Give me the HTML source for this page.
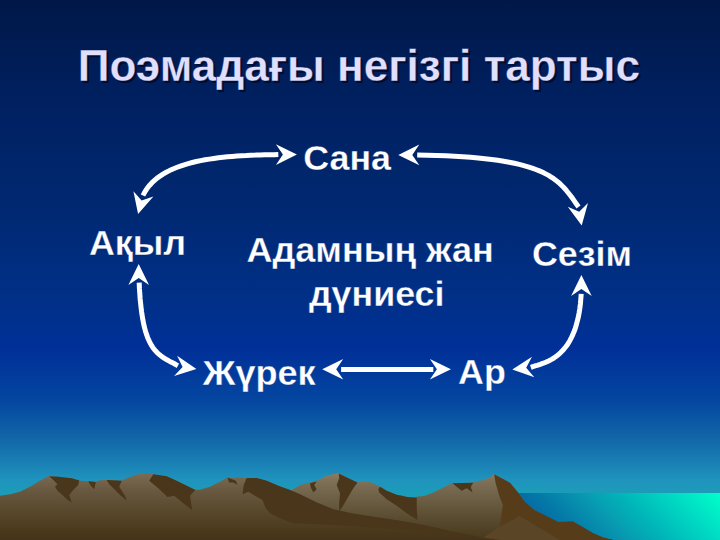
<!DOCTYPE html>
<html><head><meta charset="utf-8">
<style>
html,body{margin:0;padding:0;}
body{width:720px;height:540px;overflow:hidden;position:relative;font-family:"Liberation Sans",sans-serif;
background:linear-gradient(to bottom,#001848 0px,#002060 100px,#002870 200px,#003088 300px,#003098 350px,#0446a0 400px,#1268a8 440px,#1f93bd 480px,#1c9cb8 493px,#1c9cb8 540px);}
svg{position:absolute;left:0;top:0;}
text{font-family:"Liberation Sans",sans-serif;font-weight:bold;stroke-linejoin:miter;white-space:pre;}
</style></head><body>
<svg width="720" height="540" viewBox="0 0 720 540">
<defs>
<linearGradient id="sea" gradientUnits="userSpaceOnUse" x1="500" y1="540" x2="633.5" y2="406.5">
<stop offset="0" stop-color="#0c4898"/><stop offset="0.311" stop-color="#0478a8"/><stop offset="0.476" stop-color="#0898b0"/><stop offset="0.618" stop-color="#00b4b8"/><stop offset="0.82" stop-color="#00dcc4"/><stop offset="0.962" stop-color="#00f8c8"/><stop offset="1" stop-color="#00ffcc"/>
</linearGradient>
<linearGradient id="mt" gradientUnits="userSpaceOnUse" x1="0" y1="473" x2="0" y2="540">
<stop offset="0" stop-color="#7c6c54"/><stop offset="0.27" stop-color="#685840"/><stop offset="0.567" stop-color="#58482c"/><stop offset="0.925" stop-color="#48361a"/><stop offset="1" stop-color="#46341a"/>
</linearGradient>
<linearGradient id="mt2" gradientUnits="userSpaceOnUse" x1="0" y1="473" x2="0" y2="540">
<stop offset="0" stop-color="#8c7c62"/><stop offset="0.1" stop-color="#807258"/><stop offset="0.4" stop-color="#6c5e44"/><stop offset="0.73" stop-color="#56482c"/><stop offset="1" stop-color="#48381c"/>
</linearGradient>
</defs>
<rect x="480" y="493" width="240" height="47" fill="url(#sea)"/>
<!-- back mountain -->
<path d="M290,492 L293.3,489.2 L300,485 L310,482.5 L316.7,480.8 L326.7,475.8 L338.3,473 L343.3,475.8 L356.7,482.5 L366.7,481.3 L373.3,483.3 L380,486.7 L386.7,490.8 L396.7,494.7 L406.7,497 L415,497.5 L420,496 L420,540 L290,540 Z" fill="url(#mt2)"/>
<!-- third mountain -->
<path d="M400,495 L410,497.5 L416.7,497 L425,495.8 L433.3,492.5 L443.3,487.5 L451.7,483.3 L463.3,483 L473.3,482.5 L483.3,480 L490,477.5 L494.2,474.2 L500.8,477.7 L510.2,482.9 L518.5,492.9 L524.8,501.7 L534.2,510 L546.7,516.3 L558.1,522.1 L572.7,521.5 L582.1,526.7 L592.5,532.9 L602.9,537.5 L613.3,540 L400,540 Z" fill="url(#mt2)"/>
<g fill="#4a361a">
<!-- shadows on back mountain -->
<path d="M310,483.3 L316.7,481.5 L314.2,485 L316.7,489.2 L313.3,492.5 L310.8,487.5 Z"/>
<path d="M338.8,473.6 L343.3,475.8 L357.5,482.5 L353.3,488.3 L348.3,496.7 L342.5,506.7 L339.2,511.5 L339.2,503.3 L340,493.3 L336.7,485 L339.2,478.3 Z"/>
<path d="M380,486.7 L386.7,490.8 L396.7,494.7 L406.7,497 L415,497.8 L416.7,497.2 L416.7,508.3 L417.5,520 L406.7,513.3 L396.7,505.8 L386.7,499.2 L379.2,492.5 L378.3,489.2 Z"/>
<!-- shadows on third mountain -->
<path d="M452.5,483.3 L463.3,483 L473.3,482.7 L470.8,486.7 L472.5,492.5 L466.7,488.3 L461.7,490.8 L457.5,487.5 Z"/>
</g>
<path d="M494.2,474.2 L500.8,477.7 L510.2,482.9 L518.5,492.9 L524.8,501.7 L534.2,510 L546.7,516.3 L558.1,522.1 L572.7,521.5 L582.1,526.7 L592.5,532.9 L602.9,537.5 L613.3,540 L560,540 L519.6,516.3 L499.8,526.7 L502.9,504.8 L499.8,497.5 L495.6,482.9 Z" fill="#573c1a"/>
<path d="M560,540 L519.6,516.3 L499.8,526.7 L480,540 Z" fill="#5a4626"/>
<!-- foreground range -->
<path d="M0,495.8 L10,494.2 L20,491.7 L30,486.7 L40,480.8 L48.3,476.2 L58.3,476.7 L71.7,478.3 L80,480.8 L88.3,481.3 L95.8,481.7 L100,480.3 L106.7,480 L121.7,480.8 L128.3,477.5 L138.3,474.2 L146.7,473.3 L153.3,474.2 L166.7,476.3 L175,480 L186.7,485.8 L195,489.7 L200,489.7 L210,486.7 L220,481.7 L227.5,477.5 L230.8,478.3 L237.5,477.5 L246.7,478 L256.7,478 L266.7,480.8 L278.3,485.8 L290,490 L300,494.2 L316.7,502.5 L333.3,509.2 L350,513 L366.7,515.8 L383.3,518.3 L400,520.8 L420,524.2 L450,531 L480,537 L500,540 L0,540 Z" fill="url(#mt)"/>
<g fill="#4a361a">
<path d="M49.2,476.2 L58.3,476.7 L71.7,478.3 L79.2,480.5 L78.3,485 L73.3,490 L69.2,495 L71.7,502.5 L66.7,499.2 L61.7,494.2 L57.5,490.8 L55,486.7 L57.5,484.2 L53.3,480 Z"/>
<path d="M88.3,481.3 L95.8,482 L94.2,489.2 L90.8,485.8 Z"/>
<path d="M106.7,480 L121.7,480.8 L119.2,486.7 L125,495.8 L126.7,500.5 L120,495 L113.3,488.3 L109.2,484.2 Z"/>
<path d="M153.3,474.2 L166.7,476.3 L175,480 L186.7,485.8 L195.3,490 L190,495.8 L192.2,510 L183.3,503.3 L174.2,495.8 L167.5,497 L158.3,488.3 L149.2,480.8 Z"/>
<path d="M227.5,477.5 L230.8,478.7 L235.8,480.8 L237.5,485 L233.3,482.5 L229.2,482.5 Z"/>
<path d="M246.7,478 L256.7,478 L266.7,480.8 L278.3,485.8 L290,490 L300,494.2 L316.7,502.5 L333.3,509.2 L350,513 L366.7,515.8 L383.3,518.3 L400,520.8 L420,524.2 L450,531 L480,537 L480,536.7 L440,533 L400,529.5 L350,526 L320,524.2 L293.3,523.3 L280,518.3 L270,513.3 L265.8,508.3 L262.5,500 L255,495.8 L248.3,491.7 L242.5,494.2 L243.7,485 Z"/>
</g>

<g fill="#fff" stroke="none">
<g fill="none" stroke="#fff" stroke-width="5" stroke-linecap="butt" stroke-linejoin="round">
<path d="M278.3,154.6 L273.8,154.7 L269.3,154.7 L264.7,154.8 L260.1,154.9 L255.5,155.1 L250.8,155.2 L246.2,155.5 L241.5,155.7 L236.8,156.0 L232.2,156.4 L227.5,156.8 L223.0,157.3 L218.4,157.8 L213.9,158.4 L209.4,159.1 L205.0,159.8 L200.7,160.6 L196.4,161.5 L192.3,162.5 L188.2,163.6 L184.2,164.8 L180.4,166.1 L176.6,167.5 L173.0,169.0 L169.5,170.6 L166.2,172.3 L163.0,174.1 L160.0,176.1 L157.1,178.1 L154.5,180.4 L152.0,182.7 L149.7,185.2 L147.5,187.8 L145.7,190.6 L144.0,193.5 L143.0,195.5"/>
<path d="M417.2,155.0 L427.2,155.2 L436.8,155.5 L446.0,155.8 L454.6,156.2 L462.8,156.7 L470.6,157.3 L478.0,158.0 L485.0,158.7 L491.6,159.5 L497.8,160.3 L503.7,161.2 L509.2,162.2 L514.4,163.3 L519.3,164.4 L523.8,165.6 L528.1,166.8 L532.1,168.1 L535.9,169.5 L539.4,170.9 L542.6,172.3 L545.7,173.9 L548.6,175.4 L551.2,177.1 L553.7,178.7 L556.0,180.4 L558.2,182.2 L560.3,184.0 L562.2,185.9 L564.0,187.8 L565.8,189.7 L567.4,191.7 L569.0,193.7 L570.6,195.7 L572.1,197.8 L573.6,199.9 L575.1,202.1 L576.6,204.2 L578.1,206.4 L578.5,207.0"/>
<path d="M139.2,282.6 L139.4,288.2 L139.8,293.5 L140.1,298.5 L140.6,303.3 L141.1,307.7 L141.6,311.9 L142.2,315.9 L142.8,319.6 L143.5,323.1 L144.2,326.4 L145.0,329.4 L145.8,332.3 L146.7,334.9 L147.6,337.4 L148.6,339.7 L149.6,341.9 L150.6,343.8 L151.7,345.7 L152.8,347.4 L154.0,349.0 L155.1,350.4 L156.4,351.8 L157.6,353.1 L158.9,354.2 L160.3,355.3 L161.6,356.4 L163.0,357.3 L164.5,358.3 L165.9,359.2 L167.4,360.0 L168.9,360.9 L170.4,361.7 L172.0,362.5 L173.6,363.3 L175.2,364.2 L176.8,365.1 L177.9,365.7"/>
<path d="M581.2,293.9 L580.8,299.1 L580.4,304.0 L579.8,308.6 L579.1,313.0 L578.3,317.2 L577.3,321.1 L576.3,324.8 L575.3,328.3 L574.1,331.5 L572.8,334.6 L571.5,337.4 L570.1,340.1 L568.7,342.6 L567.2,344.9 L565.6,347.0 L564.0,349.0 L562.4,350.8 L560.7,352.5 L559.0,354.1 L557.3,355.5 L555.6,356.8 L553.9,358.0 L552.1,359.1 L550.4,360.0 L548.6,360.9 L546.9,361.7 L545.2,362.5 L543.5,363.1 L541.9,363.7 L540.3,364.3 L538.7,364.8 L537.2,365.3 L535.7,365.7 L534.3,366.2 L533.0,366.6 L531.7,367.0 L530.8,367.3"/>
<path d="M341.1,369.4 L433.3,369.4"/>
</g>
<polygon points="296.9,154.6 275.9,164.9 282.9,154.6 275.9,144.3"/>
<polygon points="138.1,214.1 133.4,191.2 141.6,200.6 153.4,196.4"/>
<polygon points="398.3,154.9 419.3,144.6 412.3,154.9 419.3,165.2"/>
<polygon points="581.7,225.5 567.8,206.7 579.2,211.7 588.0,203.0"/>
<polygon points="138.7,263.9 149.0,284.9 138.7,277.9 128.4,284.9"/>
<polygon points="196.4,369.0 174.1,376.1 182.6,366.9 177.1,355.7"/>
<polygon points="581.4,275.1 591.7,296.1 581.4,289.1 571.1,296.1"/>
<polygon points="512.3,369.4 532.0,356.8 526.2,367.8 534.3,377.3"/>
<polygon points="322.2,369.3 343.2,359.0 336.2,369.3 343.2,379.6"/>
<polygon points="450.9,369.3 429.9,379.6 436.9,369.3 429.9,359.0"/>
</g>
<text transform="translate(79.80,83.00) scale(1.0034,1)" font-size="43.97" fill="#000c30">Поэмадағы негізгі тартыс</text>
<text transform="translate(77.80,81.00) scale(1.0034,1)" font-size="43.97" fill="#e2dffc" stroke="#001d58" stroke-width="0.30">Поэмадағы негізгі тартыс</text>
<text transform="translate(303.20,170.00) scale(0.9977,1)" font-size="35.88" fill="#fff" stroke="#002569" stroke-width="0.30">Сана</text>
<text transform="translate(88.90,254.80) scale(0.9977,1)" font-size="35.88" fill="#fff" stroke="#002b7a" stroke-width="0.30">Ақыл</text>
<text transform="translate(531.90,266.10) scale(0.9977,1)" font-size="35.88" fill="#fff" stroke="#002c7d" stroke-width="0.30">Сезім</text>
<text transform="translate(246.50,261.50) scale(1.0030,1)" font-size="35.88" fill="#fff" stroke="#002c7c" stroke-width="0.30">Адамның жан</text>
<text transform="translate(308.90,305.90) scale(0.9977,1)" font-size="35.88" fill="#fff" stroke="#002f86" stroke-width="0.30">дүниесі</text>
<text transform="translate(202.80,384.60) scale(1.0060,1)" font-size="35.88" fill="#fff" stroke="#023a9b" stroke-width="0.30">Жүрек</text>
<text transform="translate(458.10,384.30) scale(0.9977,1)" font-size="35.88" fill="#fff" stroke="#02399b" stroke-width="0.30">Ар</text>
</svg>
</body></html>
